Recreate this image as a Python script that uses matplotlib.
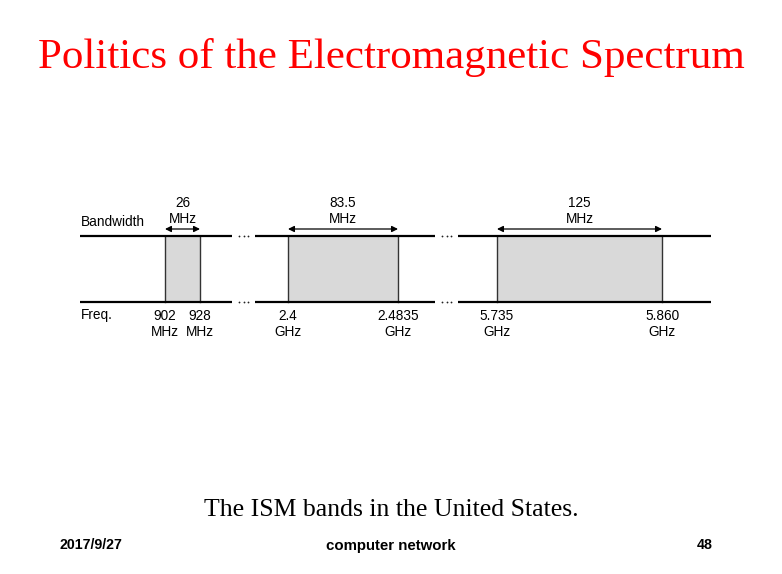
import matplotlib
matplotlib.use("Agg")
import matplotlib.pyplot as plt
from matplotlib.font_manager import fontManager

# ---- data ----
band_low_mhz = [902, 2400, 5735]
band_high_mhz = [928, 2483.5, 5860]
bandwidth_labels = ["26\nMHz", "83.5\nMHz", "125\nMHz"]
low_labels = ["902\nMHz", "2.4\nGHz", "5.735\nGHz"]
high_labels = ["928\nMHz", "2.4835\nGHz", "5.860\nGHz"]

title = "Politics of the Electromagnetic Spectrum"
caption = "The ISM bands in the United States."
footer_left, footer_mid, footer_right = "2017/9/27", "computer network", "48"

# ---- layout (pixels) ----
W, H = 782, 574
seg_px = [(80, 232), (255, 435), (458, 711)]
band_px = [(165, 200), (288, 398), (497, 662)]
y_top, y_bot = 236, 302
y_arrow = 229

installed = {f.name for f in fontManager.ttflist}
narrow = "Liberation Sans Narrow" if "Liberation Sans Narrow" in installed else "Liberation Sans"

fig = plt.figure(figsize=(W / 100, H / 100), dpi=100)
fig.patch.set_facecolor("white")

base = fig.add_axes([0, 0, 1, 1])
base.set_xlim(0, W)
base.set_ylim(H, 0)
base.axis("off")

sans = "Liberation Sans"
serif = "Liberation Serif"
fs = 9.8
ls = 1.2

for i in range(3):
    (sx0, sx1), (bx0, bx1) = seg_px[i], band_px[i]
    lo, hi = band_low_mhz[i], band_high_mhz[i]
    scale = (bx1 - bx0) / (hi - lo)  # px per MHz
    xlim0 = lo - (bx0 - sx0) / scale
    xlim1 = hi + (sx1 - bx1) / scale
    ax = fig.add_axes([sx0 / W, 0, (sx1 - sx0) / W, 1])
    ax.set_xlim(xlim0, xlim1)
    ax.set_ylim(H, 0)
    ax.axis("off")
    ax.patch.set_alpha(0)
    ax.fill_between([lo, hi], y_top, y_bot, facecolor="#d9d9d9", edgecolor="none", zorder=1)
    ax.plot([lo, lo], [y_top, y_bot], color="#333333", lw=1.0, zorder=2)
    ax.plot([hi, hi], [y_top, y_bot], color="#333333", lw=1.0, zorder=2)
    ax.plot([xlim0, xlim1], [y_top, y_top], color="black", lw=1.6, zorder=3, solid_capstyle="butt")
    ax.plot([xlim0, xlim1], [y_bot, y_bot], color="black", lw=1.6, zorder=3, solid_capstyle="butt")
    ax.annotate("", xy=(lo, y_arrow), xytext=(hi, y_arrow),
                arrowprops=dict(arrowstyle="<|-|>", color="black", lw=0.9,
                                shrinkA=0, shrinkB=0, mutation_scale=9))
    mid = (lo + hi) / 2
    ax.text(mid, y_arrow - 3, bandwidth_labels[i], ha="center", va="bottom",
            fontsize=fs, family=sans, linespacing=ls)
    ax.text(lo, y_bot + 7, low_labels[i], ha="center", va="top",
            fontsize=fs, family=sans, linespacing=ls)
    ax.text(hi, y_bot + 7, high_labels[i], ha="center", va="top",
            fontsize=fs, family=sans, linespacing=ls)

# ellipses between segments
for xc in [(seg_px[0][1] + seg_px[1][0]) / 2, (seg_px[1][1] + seg_px[2][0]) / 2]:
    for yc in (y_top, y_bot):
        base.plot([xc - 4.5, xc, xc + 4.5], [yc, yc, yc], ls="none", marker="o",
                  ms=1.3, mew=0, color="#222222")

base.text(81, 222.5, "Bandwidth", ha="left", va="center", fontsize=fs, family=sans)
base.text(81, 315.5, "Freq.", ha="left", va="center", fontsize=fs, family=sans)

base.text(391, 68, title, ha="center", va="baseline", fontsize=31, family=serif, color="#ff0000")
base.text(391, 516, caption, ha="center", va="baseline", fontsize=18.5, family=serif, color="black")

base.text(60, 545, footer_left, ha="left", va="center", fontsize=10.2, family=narrow, fontweight="bold")
base.text(391, 546, footer_mid, ha="center", va="center", fontsize=10.8, family=narrow, fontweight="bold")
base.text(713, 545, footer_right, ha="right", va="center", fontsize=10.2, family=narrow, fontweight="bold")

fig.savefig("out.png", dpi=100)
